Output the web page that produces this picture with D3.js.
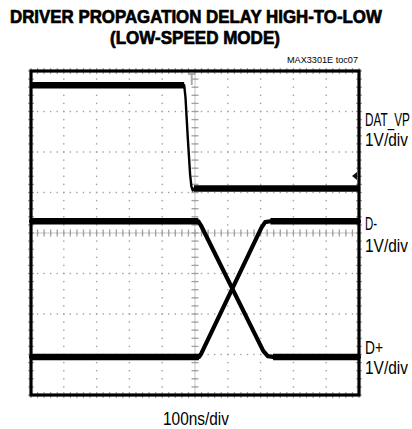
<!DOCTYPE html>
<html><head><meta charset="utf-8">
<script src="https://cdn.jsdelivr.net/npm/d3@7"></script>
<style>body{margin:0;background:#fff}svg{display:block}</style>
</head><body>
<script>
// ---- data (time in ns, voltage in V) ----
const titleLines = ["DRIVER PROPAGATION DELAY HIGH-TO-LOW", "(LOW-SPEED MODE)"];
const figId = "MAX3301E toc07";
const xAxisLabel = "100ns/div";
const channelNames = ["DAT_VP", "D-", "D+"];
const channelScales = ["1V/div", "1V/div", "1V/div"];
// channel ground offsets in divisions from screen centre
const channelOffsets = [1.15, -3.06, -3.06];
const datVpT = [-500, -33, -29, -22, -15, -11, -7, -3, 500];
const datVpV = [2.5, 2.5, 2.2, 1.2, 0.3, 0.0, -0.1, -0.05, -0.05];
const dMinusT = [-500, 10, 18, 208, 222, 238, 500];
const dMinusV = [3.35, 3.35, 3.25, 0.15, 0.02, 0.0, 0.0];
const dPlusT = [-500, 12, 19, 203, 214, 230, 500];
const dPlusV = [0.0, 0.0, 0.08, 3.2, 3.33, 3.35, 3.35];
const triggerTime = -10;     // ns, trigger position marker
const triggerLevel = 0.26;   // V on DAT_VP
const timeDomain = [-500, 500];
const divDomain = [-4, 4];

const W = 412, H = 429;
const svg = d3.select("body").append("svg").attr("width", W).attr("height", H);
const x = d3.scaleLinear().domain(timeDomain).range([31, 359]);
const y = d3.scaleLinear().domain(divDomain).range([395, 71]);
const FONT = "'Liberation Sans',Arial,sans-serif";

// text fitted horizontally to a width by scaling (condensed look)
function fitText(x0, yb, str, size, weight, anchor, width, heavy) {
  const grp = svg.append("g");
  const t = grp.append("text").attr("x", 0).attr("y", 0).attr("font-family", FONT)
    .attr("font-size", size).attr("font-weight", weight).attr("fill", "#000").text(str);
  if (heavy) t.attr("stroke", "#000").attr("stroke-width", heavy).attr("stroke-linejoin", "round");
  const w = t.node().getComputedTextLength();
  const k = width ? width / w : 1;
  const ww = w * k;
  const off = anchor === "middle" ? ww / 2 : anchor === "end" ? ww : 0;
  grp.attr("transform", `translate(${x0 - off},${yb}) scale(${k},1)`);
  return grp;
}

// title
fitText(196, 22.5, titleLines[0], 18, "bold", "middle", 372, 0.7);
fitText(195, 43.5, titleLines[1], 18, "bold", "middle", 170, 0.7);
fitText(358, 63, figId, 9.2, "normal", "end", 71);

// grid
const g = svg.append("g");
const gridCol = "#a0a0a0";
const xMajor = d3.range(timeDomain[0], timeDomain[1] + 1, 100);
const yMajor = d3.range(divDomain[0], divDomain[1] + 0.01, 1);
const xMinor = d3.range(timeDomain[0], timeDomain[1] + 0.1, 20);
const yMinor = d3.range(divDomain[0], divDomain[1] + 0.01, 0.2);
yMajor.forEach(d => {
  xMinor.forEach(t => {
    g.append("rect").attr("x", x(t) - 0.7).attr("y", y(d) - 0.7)
      .attr("width", 1.4).attr("height", 1.4).attr("fill", gridCol);
  });
});
xMajor.forEach(t => {
  yMinor.forEach(d => {
    g.append("rect").attr("x", x(t) - 0.7).attr("y", y(d) - 0.7)
      .attr("width", 1.4).attr("height", 1.4).attr("fill", gridCol);
  });
});
// centre crosshair with ticks
g.append("line").attr("x1", x(timeDomain[0])).attr("x2", x(timeDomain[1]))
  .attr("y1", y(0)).attr("y2", y(0)).attr("stroke", "#c4c4c4").attr("stroke-width", 1);
g.append("line").attr("x1", x(0)).attr("x2", x(0))
  .attr("y1", y(divDomain[0])).attr("y2", y(divDomain[1])).attr("stroke", "#c4c4c4").attr("stroke-width", 1);
xMinor.forEach(t => {
  g.append("line").attr("x1", x(t)).attr("x2", x(t)).attr("y1", y(0) - 3.5).attr("y2", y(0) + 3.5)
    .attr("stroke", gridCol).attr("stroke-width", 1.3);
});
yMinor.forEach(d => {
  g.append("line").attr("x1", x(0) - 3.5).attr("x2", x(0) + 3.5).attr("y1", y(d)).attr("y2", y(d))
    .attr("stroke", gridCol).attr("stroke-width", 1.3);
});
// edge ticks
xMinor.forEach(t => {
  [divDomain[0], divDomain[1]].forEach(d => {
    g.append("line").attr("x1", x(t)).attr("x2", x(t)).attr("y1", y(d) - 3).attr("y2", y(d) + 3)
      .attr("stroke", gridCol).attr("stroke-width", 1.2);
  });
});
yMinor.forEach(d => {
  [timeDomain[0], timeDomain[1]].forEach(t => {
    g.append("line").attr("x1", x(t) - 3).attr("x2", x(t) + 3).attr("y1", y(d)).attr("y2", y(d))
      .attr("stroke", gridCol).attr("stroke-width", 1.2);
  });
});

// trigger markers
const tx = x(triggerTime);
svg.append("path").attr("d", `M${tx-3.5},${y(4)+3}h7M${tx},${y(4)+3}v11`)
  .attr("stroke", "#aaa").attr("stroke-width", 2).attr("fill", "none");
const tly = y(channelOffsets[0] + triggerLevel);
svg.append("path").attr("d", `M${x(500)-2},${tly-4}L${x(500)-7},${tly}L${x(500)-2},${tly+4}Z`)
  .attr("fill", "#111");

// traces
const series = [
  {t: datVpT, v: datVpV, off: channelOffsets[0], w: 2.4},
  {t: dMinusT, v: dMinusV, off: channelOffsets[1], w: 4.2},
  {t: dPlusT, v: dPlusV, off: channelOffsets[2], w: 4.2}
];
const tr = svg.append("g");
series.forEach(s => {
  const pts = s.t.map((t, i) => [x(t), y(s.off + s.v[i])]);
  tr.append("path").attr("d", d3.line()(pts)).attr("fill", "none").attr("stroke", "#000")
    .attr("stroke-width", s.w).attr("stroke-linejoin", "round").attr("stroke-linecap", "round");
  // noise band on flat parts
  for (let i = 0; i < pts.length - 1; i++) {
    if (Math.abs(s.v[i + 1] - s.v[i]) < 0.01) {
      tr.append("line").attr("x1", pts[i][0]).attr("x2", pts[i + 1][0])
        .attr("y1", pts[i][1]).attr("y2", pts[i + 1][1])
        .attr("stroke", "#000").attr("stroke-width", 6.5);
    }
  }
});

// frame
svg.append("rect").attr("x", x(timeDomain[0])).attr("y", y(divDomain[1]))
  .attr("width", x(timeDomain[1]) - x(timeDomain[0])).attr("height", y(divDomain[0]) - y(divDomain[1]))
  .attr("fill", "none").attr("stroke", "#000").attr("stroke-width", 3.2);

// channel labels
const labelY = [[126, 146], [230, 252], [354, 374]];
const nameW = [45, 12, 18];
channelNames.forEach((n, i) => {
  fitText(365, labelY[i][0], n, 18.5, "normal", "start", nameW[i]);
  fitText(365, labelY[i][1], channelScales[i], 18.5, "normal", "start", 43);
});
fitText(196, 425, xAxisLabel, 18.5, "normal", "middle", 66);
</script>
</body></html>
